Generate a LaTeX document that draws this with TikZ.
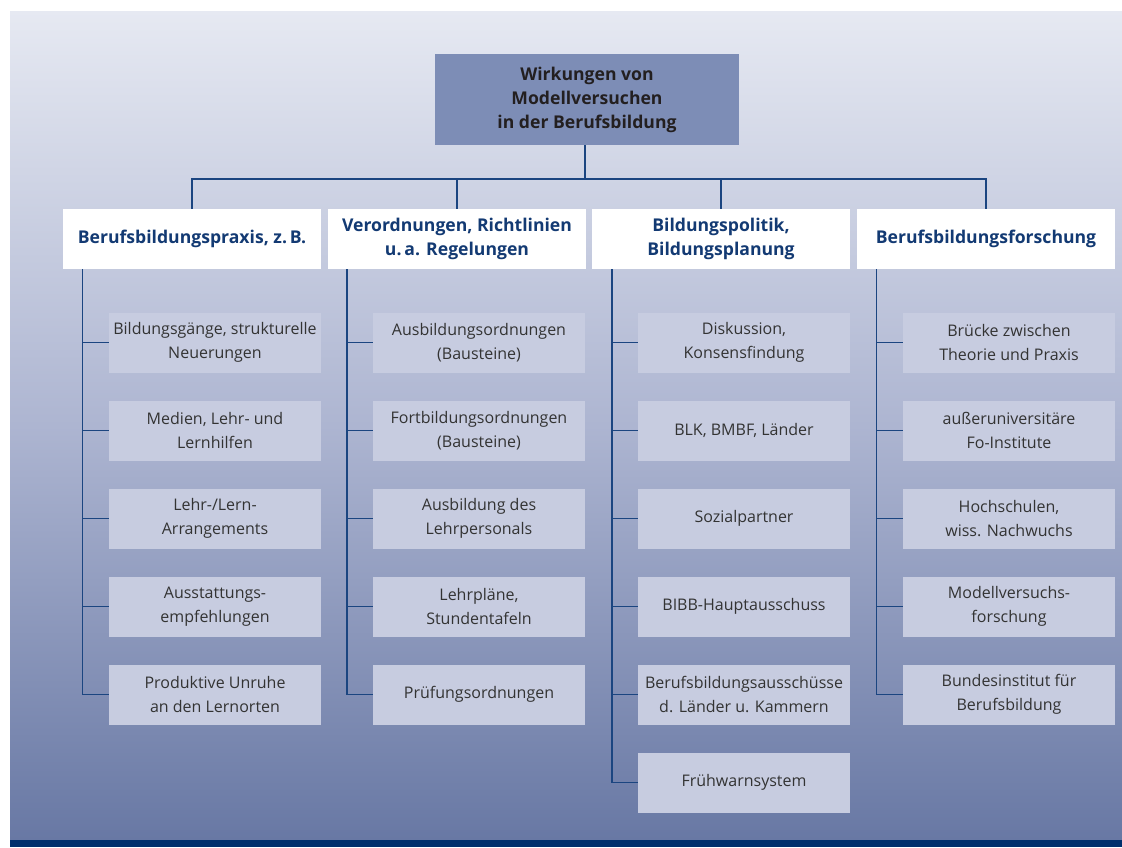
\documentclass[tikz,border=0pt]{standalone}
\usepackage{fontspec}
\setmainfont{Open Sans}
\definecolor{bgtop}{HTML}{E6E9F2}
\definecolor{bgmid}{HTML}{ADB5D1}
\definecolor{bgbot}{HTML}{6878A4}
\definecolor{barblue}{HTML}{002F6C}
\definecolor{topfill}{HTML}{7D8DB6}
\definecolor{subfill}{HTML}{C7CCE0}
\definecolor{linecol}{HTML}{1B4580}
\definecolor{headtxt}{HTML}{133A73}
\definecolor{darktxt}{HTML}{231F20}
\definecolor{subtxt}{HTML}{333333}
\begin{document}
\begin{tikzpicture}[x=1pt,y=-1pt,
  topbox/.style={rectangle,fill=topfill,minimum width=304pt,minimum height=91pt,inner sep=0pt,
    align=center,text=darktxt,font=\fontsize{17.6}{24}\selectfont\bfseries},
  headbox/.style={rectangle,fill=white,minimum width=258pt,minimum height=60pt,inner sep=0pt,
    align=center,text=headtxt,font=\fontsize{17.6}{24}\selectfont\bfseries},
  subbox/.style={rectangle,fill=subfill,minimum width=212pt,minimum height=60pt,inner sep=0pt,
    align=center,text=subtxt,font=\fontsize{16}{24}\selectfont},
  conn/.style={draw=linecol,line width=1.5pt}]
\useasboundingbox (0,0) rectangle (1122,847);
\fill[white] (0,0) rectangle (1122,847);
\shade[top color=bgtop,bottom color=bgbot,middle color=bgmid] (10,11) rectangle (1122,840);
\fill[barblue] (10,840) rectangle (1122,847);

\node[topbox] (top) at (587,99.5) {Wirkungen von\\Modellversuchen\\in der Berufsbildung};

\node[headbox] (h1) at (192,239) {Berufsbildungspraxis, z.\,B.};
\node[headbox] (h2) at (457,239) {Verordnungen, Richtlinien\\u.\,a. Regelungen};
\node[headbox] (h3) at (721,239) {Bildungspolitik,\\Bildungsplanung};
\node[headbox] (h4) at (986,239) {Berufsbildungsforschung};

% column 1
\node[subbox] (a1) at (215,342.5) {Bildungsgänge, strukturelle\\Neuerungen};
\node[subbox] (a2) at (215,430.5) {Medien, Lehr- und\\Lernhilfen};
\node[subbox] (a3) at (215,518.5) {Lehr-/Lern-\\Arrangements};
\node[subbox] (a4) at (215,606.5) {Ausstattungs-\\empfehlungen};
\node[subbox] (a5) at (215,694.5) {Produktive Unruhe\\an den Lernorten};
% column 2
\node[subbox] (b1) at (479,342.5) {Ausbildungsordnungen\\(Bausteine)};
\node[subbox] (b2) at (479,430.5) {Fortbildungsordnungen\\(Bausteine)};
\node[subbox] (b3) at (479,518.5) {Ausbildung des\\Lehrpersonals};
\node[subbox] (b4) at (479,606.5) {Lehrpläne,\\Stundentafeln};
\node[subbox] (b5) at (479,694.5) {Prüfungsordnungen};
% column 3
\node[subbox] (c1) at (744,342.5) {Diskussion,\\Konsensfindung};
\node[subbox] (c2) at (744,430.5) {BLK, BMBF, Länder};
\node[subbox] (c3) at (744,518.5) {Sozialpartner};
\node[subbox] (c4) at (744,606.5) {BIBB-Hauptausschuss};
\node[subbox] (c5) at (744,694.5) {Berufsbildungsausschüsse\\d. Länder u. Kammern};
\node[subbox] (c6) at (744,782.5) {Frühwarnsystem};
% column 4
\node[subbox] (d1) at (1009,342.5) {Brücke zwischen\\Theorie und Praxis};
\node[subbox] (d2) at (1009,430.5) {außeruniversitäre\\Fo-Institute};
\node[subbox] (d3) at (1009,518.5) {Hochschulen,\\wiss. Nachwuchs};
\node[subbox] (d4) at (1009,606.5) {Modellversuchs-\\forschung};
\node[subbox] (d5) at (1009,694.5) {Bundesinstitut für\\Berufsbildung};

% bus
\coordinate (bus) at (585,179);
\draw[conn] (top.south -| bus) -- (bus);
\draw[conn] (h1.north) -- (h1.north |- bus) -- (h4.north |- bus) -- (h4.north);
\draw[conn] (h2.north) -- (h2.north |- bus);
\draw[conn] (h3.north) -- (h3.north |- bus);

% spines
\coordinate (s1) at (82.5,269);
\coordinate (s2) at (347,269);
\coordinate (s3) at (612,269);
\coordinate (s4) at (876.5,269);
\draw[conn] (s1) |- (a5.west);
\foreach \n in {a1,a2,a3,a4} \draw[conn] (s1 |- \n.west) -- (\n.west);
\draw[conn] (s2) |- (b5.west);
\foreach \n in {b1,b2,b3,b4} \draw[conn] (s2 |- \n.west) -- (\n.west);
\draw[conn] (s3) |- (c6.west);
\foreach \n in {c1,c2,c3,c4,c5} \draw[conn] (s3 |- \n.west) -- (\n.west);
\draw[conn] (s4) |- (d5.west);
\foreach \n in {d1,d2,d3,d4} \draw[conn] (s4 |- \n.west) -- (\n.west);
\end{tikzpicture}
\end{document}
